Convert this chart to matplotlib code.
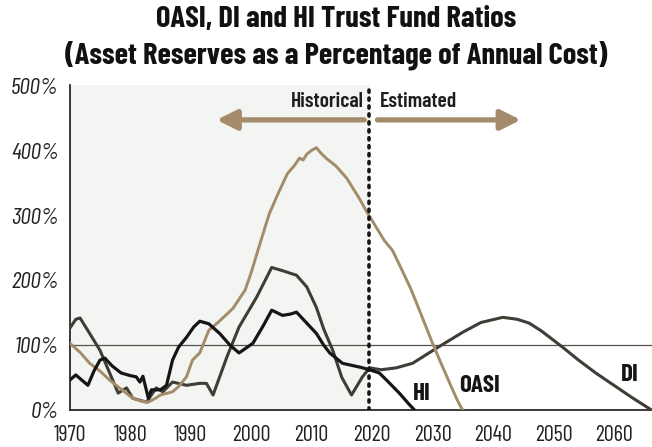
import matplotlib.pyplot as plt

# ── Data ───────────────────────────────────────────────────
oasi_years = [1970, 1971.7, 1973.3, 1975, 1976.6, 1978.5, 1980.4, 1982, 1983, 1984, 1985, 1987, 1988,
              1989.3, 1990.3, 1991.5, 1993, 1994.5, 1996, 1997, 1999, 2000, 2001.5, 2003, 2004.5,
              2006, 2007.2, 2008, 2008.6, 2009.2, 2010, 2010.8, 2011.5, 2012.5, 2014, 2015.8, 2017,
              2018, 2019, 2020.5, 2022, 2023.4, 2025, 2026.5, 2028, 2030, 2031.5, 2033, 2034, 2034.6, 2035]
oasi_vals = [103, 89, 72, 60, 46, 32, 18, 13, 12, 17, 23, 28, 36,
             51, 77, 88, 123, 135, 148, 157, 185, 212, 258, 303, 335,
             365, 378, 389, 386, 395, 401, 405, 397, 388, 377, 358, 340,
             325, 308, 285, 262, 246, 215, 185, 150, 103, 70, 38, 17, 6, 0]

hi_years = [1970, 1971, 1972, 1973, 1974, 1975, 1975.8, 1977, 1978.5, 1980, 1981, 1981.6, 1982.1, 1983,
            1983.5, 1985, 1986, 1987, 1988, 1989.3, 1990.5, 1991.5, 1993, 1994.8, 1996.5, 1998,
            2000.3, 2002, 2003.4, 2005.2, 2006.5, 2007.5, 2009.2, 2010.8, 2012, 2013, 2015.1, 2018,
            2019.6, 2021.2, 2022.4, 2024.5, 2026, 2027]
hi_vals = [46, 54, 46, 38, 60, 77, 80, 68, 57, 53, 51, 43, 52, 18,
           31, 31, 38, 77, 97, 112, 128, 137, 133, 118, 100, 88,
           103, 130, 154, 146, 148, 151, 134, 118, 100, 88, 72, 66,
           62, 57, 46, 26, 10, 0]

di_years = [1970, 1971, 1971.7, 1973.3, 1975, 1976.6, 1978, 1979.4, 1980.4, 1982.7, 1984.3, 1985.4,
            1987, 1989.3, 1991.5, 1992.6, 1993.7, 1996, 1998, 2000.9, 2003.4, 2005.2, 2007.5,
            2009.2, 2010.8, 2012, 2013.5, 2015, 2016.6, 2018.4, 2019.6, 2021.5, 2024, 2026.7,
            2030.6, 2035, 2038, 2041.6, 2044, 2046, 2048, 2051.5, 2054, 2057, 2060, 2063, 2066.2]
di_vals = [126, 140, 142, 118, 92, 57, 26, 34, 18, 12, 34, 28,
           43, 38, 41, 41, 23, 82, 128, 174, 220, 215, 208,
           190, 158, 125, 92, 50, 23, 51, 65, 62, 65, 72,
           95, 120, 135, 143, 140, 134, 122, 97, 78, 57, 38, 19, 0]

x_ticks = [1970, 1980, 1990, 2000, 2010, 2020, 2030, 2040, 2050, 2060]
y_ticks = [0, 100, 200, 300, 400, 500]

split_year = 2019.5

# ── Fonts / colours ────────────────────────────────────────
COND = ['Barlow Condensed', 'Roboto Condensed', 'DejaVu Sans']

TAN = '#a48b69'
DARK = '#403c36'
BLACK = '#151515'
SHADE = '#f3f5f2'

fig = plt.figure(figsize=(6.52, 4.47), dpi=100)
ax = fig.add_axes([0.107, 0.083, 0.893, 0.727])

ax.axvspan(1970, split_year, color=SHADE, zorder=0)
ax.axhline(100, color='#55524c', linewidth=0.9, zorder=1)

ax.plot(di_years, di_vals, color=DARK, linewidth=2.2, zorder=3)
ax.plot(oasi_years, oasi_vals, color=TAN, linewidth=2.1, zorder=3)
ax.plot(hi_years, hi_vals, color=BLACK, linewidth=2.3, zorder=4)

ax.axvline(split_year, color=BLACK, linestyle=(0, (0.6, 1.6)), linewidth=2.6,
           dash_capstyle='round', zorder=5)

# historical / estimated arrows
arrow_style = '-|>,head_length=1.2,head_width=0.6'
ax.annotate('', xy=(1994.3, 448), xytext=(2018.7, 448),
            arrowprops=dict(arrowstyle=arrow_style, color=TAN, lw=3.8,
                            shrinkA=0, shrinkB=0))
ax.annotate('', xy=(2044.6, 448), xytext=(2020.9, 448),
            arrowprops=dict(arrowstyle=arrow_style, color=TAN, lw=3.8,
                            shrinkA=0, shrinkB=0))
ax.text(2018.6, 477, 'Historical', ha='right', va='center', fontsize=15.5,
        fontweight='semibold', family=COND, color='#1e1e1e')
ax.text(2021.3, 477, 'Estimated', ha='left', va='center', fontsize=15.5,
        fontweight='semibold', family=COND, color='#1e1e1e')

# series labels
ax.text(2028.2, 24, 'HI', ha='center', va='center', fontsize=18, fontweight='bold',
        family=COND, color=BLACK)
ax.text(2037.8, 37, 'OASI', ha='center', va='center', fontsize=18, fontweight='bold',
        family=COND, color=BLACK)
ax.text(2062.6, 54, 'DI', ha='center', va='center', fontsize=18, fontweight='bold',
        family=COND, color=BLACK)

ax.set_xlim(1970, 2066.3)
ax.set_ylim(0, 502)
ax.set_xticks(x_ticks)
ax.set_xticklabels([str(t) for t in x_ticks], family=COND, fontsize=16, color='#222222')
ax.set_yticks(y_ticks)
ax.set_yticklabels([f'{t}%' for t in y_ticks], family=COND, fontsize=17, style='italic',
                   color='#222222')
ax.tick_params(length=0)
ax.tick_params(axis='x', pad=11)
ax.tick_params(axis='y', pad=8)

for s in ['top', 'right']:
    ax.spines[s].set_visible(False)
for s in ['left', 'bottom']:
    ax.spines[s].set_color('#2a2a2a')
    ax.spines[s].set_linewidth(1.3)

fig.text(0.515, 0.957, 'OASI, DI and HI Trust Fund Ratios', ha='center', va='center',
         fontsize=22, fontweight='bold', family=COND, color='#111111')
fig.text(0.515, 0.877, '(Asset Reserves as a Percentage of Annual Cost)', ha='center',
         va='center', fontsize=22, fontweight='bold', family=COND, color='#111111')

fig.savefig('out.png', dpi=100)
